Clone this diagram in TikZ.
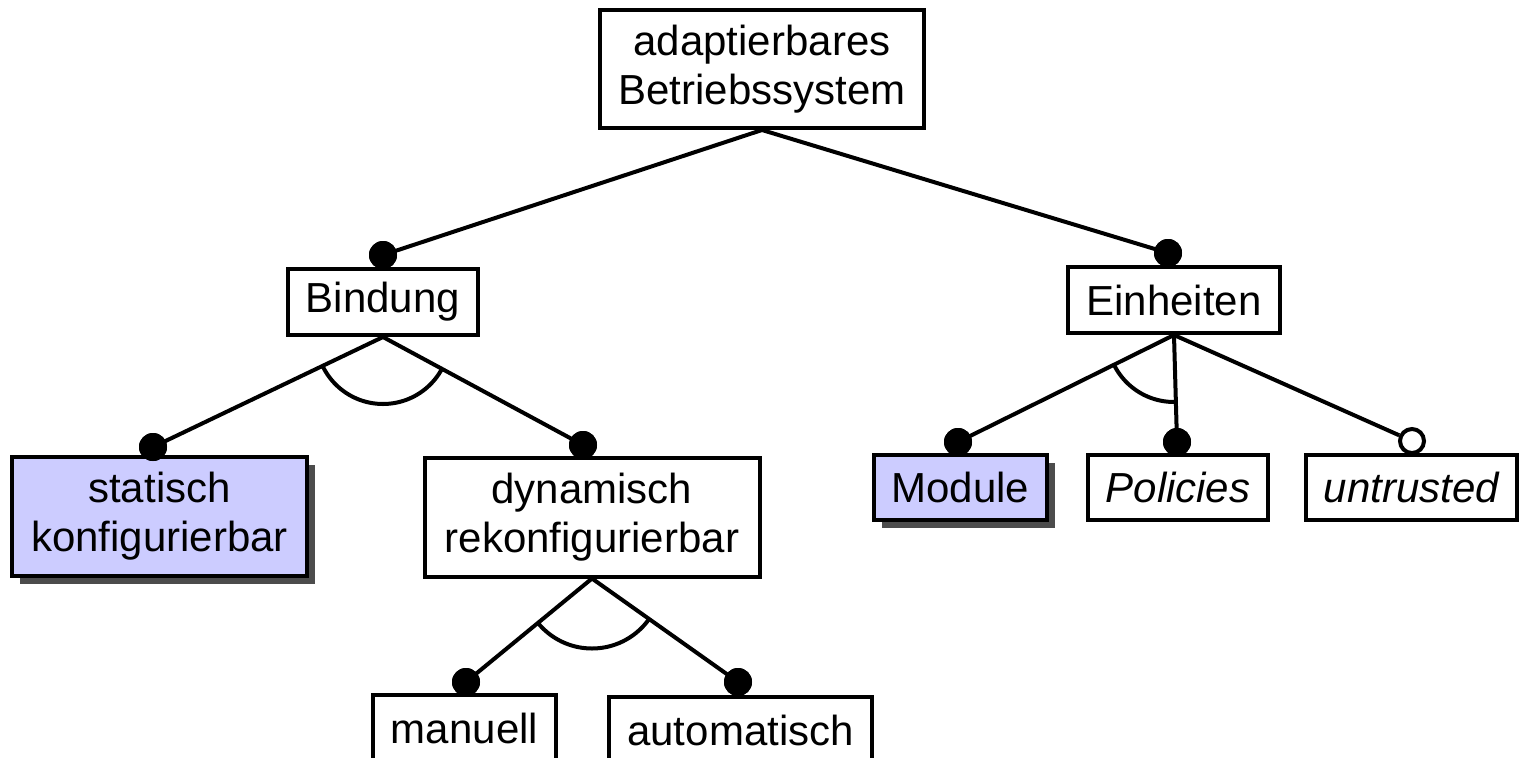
\documentclass[tikz,border=0pt]{standalone}
\usepackage{fontspec}
\setmainfont{Liberation Sans}
\usetikzlibrary{shadows}

\begin{document}
\begin{tikzpicture}[x=1pt,y=-1pt]
		\tikzstyle{feature} = [draw=black,line width=4pt,fill=white,align=center,inner sep=0pt,font=\fontsize{42}{49}\selectfont];
		\tikzstyle{chosen} = [feature,fill={rgb,255:red,204;green,204;blue,255},drop shadow={shadow xshift=8pt,shadow yshift=-8pt,fill=black!70,opacity=1}];
		\tikzstyle{dot} = [circle,fill=black,inner sep=0pt,minimum size=28pt];
		\tikzstyle{opendot} = [circle,draw=black,fill=white,line width=4pt,inner sep=0pt,minimum size=24pt];
		\tikzstyle{link} = [line width=4pt];
		\useasboundingbox (0,0) rectangle (1519,758);
		\node[feature,minimum width=324pt,minimum height=118pt] (os) at (762, 69) {adaptierbares\\Betriebssystem};
		\node[feature,minimum width=190pt,minimum height=66pt] (bind) at (383, 302) {Bindung};
		\node[feature,minimum width=212pt,minimum height=66pt] (units) at (1174, 300) {Einheiten};
		\node[chosen,minimum width=295pt,minimum height=119pt] (static) at (159.5, 516.5) {statisch\\konfigurierbar};
		\node[feature,minimum width=335pt,minimum height=119pt] (dynamic) at (592, 517) {dynamisch\\rekonfigurierbar};
		\node[feature,minimum width=183pt,minimum height=66pt] (manual) at (464.5, 728) {manuell};
		\node[feature,minimum width=263pt,minimum height=66pt] (auto) at (740.5, 730) {automatisch};
		\node[chosen,minimum width=173pt,minimum height=65pt] (modules) at (960.5, 487.5) {Module};
		\node[feature,minimum width=180pt,minimum height=65pt] (policies) at (1178, 487.5) {\itshape Policies};
		\node[feature,minimum width=211pt,minimum height=65pt] (untrusted) at (1411.5, 487.5) {\itshape untrusted};
		\node[dot] (bindDot) at (383, 255) {};
		\node[dot] (unitsDot) at (1168, 253) {};
		\node[dot] (staticDot) at (153, 447) {};
		\node[dot] (dynamicDot) at (583, 445) {};
		\node[dot] (manualDot) at (466, 682) {};
		\node[dot] (autoDot) at (738, 682) {};
		\node[dot] (modulesDot) at (958, 442) {};
		\node[dot] (policiesDot) at (1177, 442) {};
		\node[opendot] (untrustedDot) at (1412, 441) {};
		\draw[link] (os.south) -- (bindDot.center);
		\draw[link] (os.south) -- (unitsDot.center);
		\draw[link] (bind.south) -- (staticDot.center);
		\draw[link] (bind.south) -- (dynamicDot.center);
		\draw[link] (dynamic.south) -- (manualDot.center);
		\draw[link] (dynamic.south) -- (autoDot.center);
		\draw[link] (units.south) -- (modulesDot.center);
		\draw[link] (units.south) -- (policiesDot.center);
		\draw[link] (units.south) -- (untrustedDot);
		\begin{scope}
			\clip (bind.south) -- (staticDot.center) -- (dynamicDot.center) -- cycle;
			\draw[link] (bind.south) circle (67pt);
		\end{scope}
		\begin{scope}
			\clip (dynamic.south) -- (manualDot.center) -- (autoDot.center) -- cycle;
			\draw[link] (dynamic.south) circle (70pt);
		\end{scope}
		\begin{scope}
			\clip (units.south) -- (modulesDot.center) -- (policiesDot.center) -- cycle;
			\draw[link] (units.south) circle (67pt);
		\end{scope}
		\node[dot] at (bindDot) {};
		\node[dot] at (unitsDot) {};
		\node[dot] at (staticDot) {};
		\node[dot] at (dynamicDot) {};
		\node[dot] at (manualDot) {};
		\node[dot] at (autoDot) {};
		\node[dot] at (modulesDot) {};
		\node[dot] at (policiesDot) {};
	\end{tikzpicture}
\end{document}
